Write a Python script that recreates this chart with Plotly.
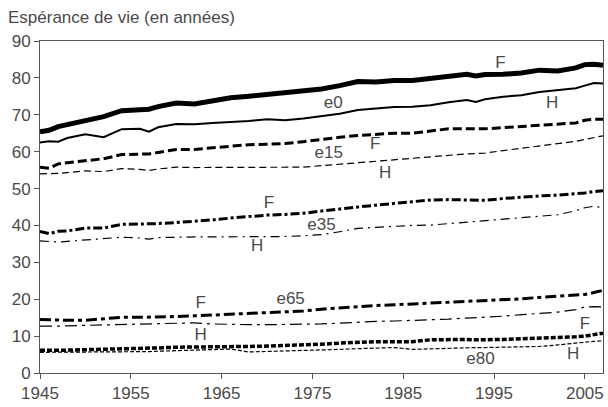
import plotly.graph_objects as go

# années
years = [1945, 1946, 1947, 1948, 1950, 1952, 1954, 1956, 1957, 1958, 1960, 1962,
         1964, 1966, 1968, 1970, 1972, 1974, 1976, 1978, 1980, 1982, 1984, 1986,
         1988, 1990, 1992, 1993, 1994, 1996, 1998, 2000, 2002, 2004, 2005, 2006, 2007]

e0_f = [65.4, 65.8, 66.8, 67.3, 68.6, 69.5, 71.1, 71.3, 71.5, 72.2, 73.2, 72.9,
        73.9, 74.6, 75.0, 75.5, 75.7, 76.4, 77.0, 77.9, 79.0, 78.9, 79.3, 79.3,
        79.8, 80.6, 81.0, 80.5, 80.9, 81.0, 81.3, 82.1, 81.9, 82.7, 83.6, 83.7, 83.4]
e0_h = [62.5, 62.8, 62.7, 63.7, 64.7, 63.9, 66.1, 66.2, 65.4, 66.6, 67.5, 67.4,
        67.8, 68.0, 68.3, 68.8, 68.5, 69.0, 69.6, 70.3, 71.3, 71.8, 72.1, 72.2,
        72.6, 73.4, 74.0, 73.5, 74.2, 74.9, 75.3, 76.2, 76.7, 77.2, 77.9, 78.6, 78.5]
e15_f = [55.8, 55.5, 56.7, 57.0, 57.4, 58.1, 59.2, 59.4, 59.4, 59.8, 60.6, 60.6,
         61.0, 61.6, 61.9, 62.0, 62.2, 62.7, 63.4, 63.9, 64.4, 64.8, 65.0, 65.0,
         65.5, 66.2, 66.2, 66.2, 66.2, 66.5, 66.8, 67.2, 67.5, 67.8, 68.5, 68.8, 68.8]
e15_h = [54.0, 54.0, 54.1, 54.3, 54.8, 54.6, 55.4, 55.2, 54.9, 55.3, 55.8, 55.7,
         55.7, 55.7, 55.7, 55.7, 55.7, 55.8, 56.2, 56.6, 57.1, 57.6, 57.9, 58.2,
         58.6, 59.0, 59.4, 59.5, 59.6, 60.3, 60.9, 61.5, 62.1, 62.8, 63.3, 63.9, 64.3]
e35_f = [38.4, 37.8, 38.4, 38.5, 39.3, 39.3, 40.3, 40.3, 40.3, 40.5, 40.8, 41.1,
         41.5, 42.0, 42.5, 42.8, 43.0, 43.3, 43.9, 44.5, 45.0, 45.5, 46.0, 46.4,
         46.9, 47.0, 47.0, 46.9, 46.8, 47.3, 47.7, 48.0, 48.2, 48.5, 48.8, 49.2, 49.4]
e35_h = [35.8, 35.6, 35.5, 35.7, 36.1, 36.3, 36.8, 36.6, 36.3, 36.7, 36.9, 36.9,
         36.9, 36.9, 36.9, 36.9, 37.0, 37.2, 37.5, 38.3, 39.2, 39.5, 39.8, 40.0,
         40.1, 40.5, 40.8, 41.0, 41.2, 41.6, 42.0, 42.4, 42.9, 44.0, 44.8, 45.2, 44.8]
e65_f = [14.5, 14.4, 14.3, 14.3, 14.3, 14.7, 15.1, 15.1, 15.1, 15.2, 15.3, 15.5,
         15.7, 15.9, 16.1, 16.3, 16.5, 16.8, 17.3, 17.7, 18.0, 18.3, 18.5, 18.7,
         18.9, 19.2, 19.4, 19.5, 19.6, 19.8, 20.1, 20.5, 20.8, 21.1, 21.3, 21.8, 22.4]
e65_h = [12.7, 12.6, 12.7, 12.8, 12.9, 13.0, 13.1, 13.2, 13.2, 13.3, 13.4, 13.6,
         13.3, 13.1, 13.1, 13.1, 13.1, 13.1, 13.3, 13.5, 13.8, 14.0, 14.1, 14.2,
         14.4, 14.6, 14.9, 15.0, 15.1, 15.4, 15.8, 16.2, 16.5, 17.2, 17.9, 18.0, 17.9]
e80_f = [6.2, 6.1, 6.2, 6.2, 6.3, 6.4, 6.5, 6.6, 6.6, 6.8, 7.0, 7.0,
         7.1, 7.1, 7.2, 7.3, 7.4, 7.5, 7.8, 8.1, 8.4, 8.5, 8.5, 8.5,
         9.0, 9.1, 9.1, 9.0, 9.0, 9.1, 9.3, 9.4, 9.5, 9.8, 10.0, 10.4, 10.8]
e80_h = [5.6, 5.6, 5.6, 5.7, 5.7, 5.7, 5.7, 5.8, 5.8, 5.9, 6.0, 6.1,
         6.3, 6.5, 5.7, 5.8, 5.9, 6.0, 6.2, 6.4, 6.6, 6.8, 6.9, 6.4,
         6.6, 6.8, 6.9, 6.9, 6.9, 7.0, 7.1, 7.2, 7.6, 8.2, 8.4, 8.6, 8.7]

# étiquettes posées sur le graphique (texte, année, valeur)
label_text = ["F", "H", "e0", "F", "H", "e15", "F", "H", "e35",
              "F", "H", "e65", "F", "H", "e80"]
label_x = [1995.7, 2001.4, 1977.3, 1981.9, 1983.0, 1976.8, 1970.2, 1968.9, 1976.0,
           1962.7, 1962.7, 1972.6, 2005.0, 2003.7, 1993.5]
label_y = [83.8, 73.1, 72.9, 62.0, 53.9, 59.5, 45.9, 34.1, 39.9,
           18.9, 10.2, 19.9, 13.2, 4.9, 3.6]

series = [
    (e0_f, 5, "solid"),
    (e0_h, 2, "solid"),
    (e15_f, 3, "9px,4px"),
    (e15_h, 1.2, "7px,4px"),
    (e35_f, 3, "9px,3px,3px,3px"),
    (e35_h, 1.2, "9px,5px,2px,5px"),
    (e65_f, 3, "11px,4px,4px,4px"),
    (e65_h, 1.2, "12px,5px,3px,5px"),
    (e80_f, 3.5, "5px,2px"),
    (e80_h, 1.2, "4px,2px"),
]

font = "Liberation Sans, Arial, sans-serif"
grey = "#4a4a4a"

fig = go.Figure()
for vals, w, dash in series:
    fig.add_trace(go.Scatter(x=years, y=vals, mode="lines",
                             line=dict(color="black", width=w, dash=dash),
                             showlegend=False))

fig.add_trace(go.Scatter(x=label_x, y=label_y, mode="text", text=label_text,
                         textfont=dict(family=font, size=17, color=grey),
                         showlegend=False))

fig.add_annotation(text="Espérance de vie (en années)", xref="paper", yref="paper",
                   x=0, y=1, xanchor="left", yanchor="middle", xshift=-34, yshift=24,
                   showarrow=False, font=dict(family=font, size=17, color=grey))

fig.update_xaxes(range=[1945, 2007], tickvals=[1945, 1955, 1965, 1975, 1985, 1995, 2005],
                 showgrid=False, zeroline=False, showline=True, linecolor="#555555",
                 linewidth=1, mirror=True, ticks="outside", ticklen=5,
                 tickcolor="#555555", tickfont=dict(family=font, size=17, color=grey))
fig.update_yaxes(range=[0, 90], dtick=10, showgrid=False, zeroline=False,
                 showline=True, linecolor="#555555", linewidth=1, mirror=True,
                 ticks="outside", ticklen=5, tickcolor="#555555",
                 tickfont=dict(family=font, size=17, color=grey))

fig.update_layout(width=608, height=407, margin=dict(l=40, r=4, t=41, b=30),
                  plot_bgcolor="white", paper_bgcolor="white", hovermode=False)

# la page a une marge par défaut de 8 px : on la retire
fig.write_html("out.html", config={"displayModeBar": False},
               post_script="document.body.style.margin='0';")
